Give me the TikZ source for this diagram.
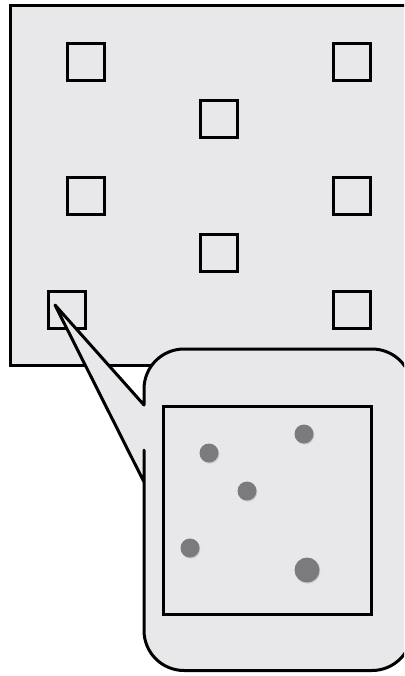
\documentclass[tikz,border=0pt]{standalone}
\usepackage{tikz}
\usepackage{xcolor}
\usetikzlibrary{positioning,shadows}
\definecolor{pane}{HTML}{E8E8EA}
\definecolor{dot}{HTML}{7B7B7D}

\begin{document}
\begin{tikzpicture}[x=1pt,y=-1pt,
  site/.style={draw=black,line width=3pt,fill=pane,minimum size=37pt,inner sep=0pt,
               drop shadow={shadow xshift=0.8pt,shadow yshift=-0.8pt,opacity=0.25}},
  zoombox/.style={draw=black,line width=3pt,fill=pane,minimum size=208pt,inner sep=0pt},
  spot/.style={circle,fill=dot,inner sep=0pt,minimum size=19pt,
               drop shadow={shadow xshift=0.8pt,shadow yshift=-1.2pt,opacity=0.25}},
  bubble/.style={draw=black,line width=3pt,fill=pane,line join=round}]
\clip (0,0) rectangle (404,676);
% field with the sites
\draw[line width=3pt,fill=pane] (10.5,5.5) rectangle (430,365.5);
\node[site] (s1) at (86,62.5) {};
\node[site] (s2) at (352,62.5) {};
\node[site] (s3) at (219,119.5) {};
\node[site] (s4) at (86,196) {};
\node[site] (s5) at (352,196) {};
\node[site] (s6) at (219,253) {};
\node[site] (s7) at (67,310) {};
\node[site] (s8) at (352,310) {};
% magnified view of s7
\coordinate (tip) at (55,305);
\draw[bubble] (tip) -- (144,405) -- (144,400) [rounded corners=40pt] -- (144,349) -- (412,349)
  -- (412,670.5) -- (144,670.5) -- (144,490) [sharp corners] -- (144,482) -- cycle;
\node[zoombox] (zoom) at (267,510) {};
\node[spot] (p1) at (209,453) {};
\node[spot] (p2) at (304,434) {};
\node[spot] (p3) at (247,491) {};
\node[spot] (p4) at (190,548) {};
\node[spot,minimum size=25pt] (p5) at (307,570) {};
\end{tikzpicture}
\end{document}
